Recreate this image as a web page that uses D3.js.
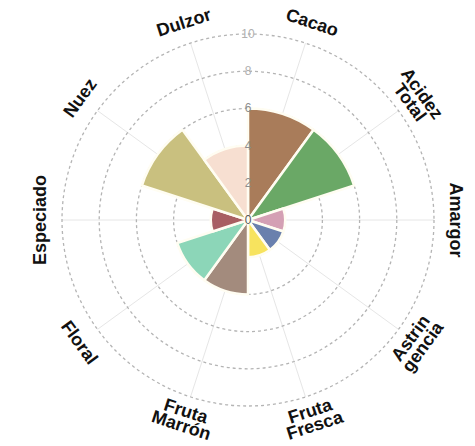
<!DOCTYPE html>
<html>
<head>
<meta charset="utf-8">
<script src="https://cdn.jsdelivr.net/npm/d3@7"></script>
<style>
html,body{margin:0;padding:0;background:#fff;}
svg{display:block;}
</style>
</head>
<body>
<svg id="chart" width="475" height="446"></svg>
<script>
const categories = ["Cacao","Acidez\nTotal","Amargor","Astrin\ngencia","Fruta\nFresca","Fruta\nMarrón","Floral","Especiado","Nuez","Dulzor"];
const values = [6, 6, 2, 2, 2, 4, 4, 2, 6, 4];
const colors = ["#a97c5a","#6aa866","#d4a0b4","#6a80ad","#f7e35e","#a38b7d","#8cd6b8","#a85f62","#c9c07f","#f7dfd1"];
const tickValues = [0, 2, 4, 6, 8, 10];

const svg = d3.select("#chart");
const cx = 248, cy = 220;
const rMax = 186;
const labelR = 208;

const r = d3.scaleLinear().domain([0, 10]).range([0, rMax]);
const a = d3.scaleBand().domain(d3.range(categories.length)).range([0, 2 * Math.PI]);

const g = svg.append("g").attr("transform", `translate(${cx},${cy})`);

// radial spokes at category centers
g.append("g").selectAll("line").data(categories).join("line")
  .attr("x1", 0).attr("y1", 0)
  .attr("x2", (d, i) => r(10) * Math.sin(a(i) + a.bandwidth() / 2))
  .attr("y2", (d, i) => -r(10) * Math.cos(a(i) + a.bandwidth() / 2))
  .attr("stroke", "#e6e6e6").attr("stroke-width", 1);

// dashed grid circles
g.append("g").selectAll("circle").data(tickValues.filter(v => v > 0)).join("circle")
  .attr("r", d => r(d))
  .attr("fill", "none")
  .attr("stroke", "#b4b4b4")
  .attr("stroke-width", 1.3)
  .attr("stroke-dasharray", "3,3");

// bars
const arc = d3.arc()
  .innerRadius(0)
  .outerRadius(d => r(d.v))
  .startAngle(d => a(d.i))
  .endAngle(d => a(d.i) + a.bandwidth());

g.append("g").selectAll("path").data(values.map((v, i) => ({v, i}))).join("path")
  .attr("d", arc)
  .attr("fill", d => colors[d.i])
  .attr("stroke", "#fffdf2")
  .attr("stroke-width", 2.5)
  .attr("stroke-linejoin", "round");

// tick labels
g.append("g").selectAll("text").data(tickValues).join("text")
  .attr("x", 0)
  .attr("y", d => -r(d))
  .attr("text-anchor", "middle")
  .attr("dominant-baseline", "central")
  .attr("font-family", "Liberation Sans, Arial, sans-serif")
  .attr("font-size", 12)
  .attr("fill", d => d === 0 ? "#555" : (d >= 8 ? "#b0b0b0" : "#8e8e8e"))
  .text(d => d);

// category labels
const lh = 15;
const labels = g.append("g").selectAll("text").data(categories).join("text")
  .attr("transform", (d, i) => {
    const ang = a(i) + a.bandwidth() / 2;
    const deg = ang * 180 / Math.PI;
    let rot;
    if (deg > 90.5 && deg < 269.5) rot = deg - 180;
    else if (deg >= 269.5) rot = deg - 360;
    else rot = deg;
    return `translate(${labelR * Math.sin(ang)},${-labelR * Math.cos(ang)}) rotate(${rot})`;
  })
  .attr("text-anchor", "middle")
  .attr("font-family", "Liberation Sans, Arial, sans-serif")
  .attr("font-weight", "bold")
  .attr("font-size", 18)
  .attr("fill", "#111");

labels.each(function(d) {
  const lines = d.split("\n");
  const t = d3.select(this);
  lines.forEach((ln, k) => {
    t.append("tspan")
      .attr("x", 0)
      .attr("y", (k - (lines.length - 1) / 2) * lh)
      .attr("dy", "0.35em")
      .text(ln);
  });
});
</script>
</body>
</html>
